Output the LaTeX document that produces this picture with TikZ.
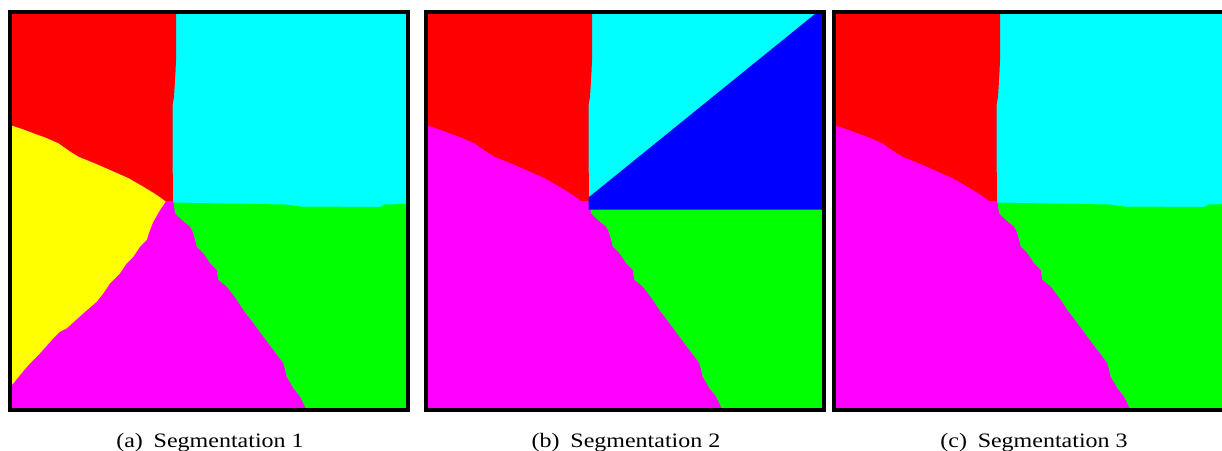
\documentclass[tikz,border=0pt]{standalone}
\usepackage{fontspec}
\setmainfont{Liberation Serif}
\usepackage{tikz}
\usepackage{xcolor}
\definecolor{segred}{RGB}{255,0,0}
\definecolor{segcyan}{RGB}{0,255,255}
\definecolor{seggreen}{RGB}{0,255,0}
\definecolor{segmagenta}{RGB}{255,0,255}
\definecolor{segyellow}{RGB}{255,255,0}
\definecolor{segblue}{RGB}{0,0,255}

% shared region borders, in pixels of the first panel
\newcommand{\bndV}{(176,14) -- (176,60) -- (175.5,72) -- (174,97) -- (172.5,105) -- (172.5,147) -- (173,201)}
\newcommand{\bndL}{(12,125.7) -- (22,129) -- (33.3,133.3) -- (45,137.5) -- (58.3,143.3) -- (70,151.5) -- (78.3,156.7) -- (95,163.5) -- (110,170) -- (128,178) -- (143.3,186.7) -- (156.7,195) -- (165,201) -- (173,201)}
\newcommand{\bndH}{(173,202.5) -- (195,203) -- (285,204.5) -- (300,206.5) -- (380,207) -- (385,204.5) -- (406,204)}
\newcommand{\bndM}{(173.3,201.7) -- (175,213.3) -- (181.7,220) -- (190,226.7) -- (193.3,233.3) -- (196.7,246.7) -- (203.3,253.3) -- (210,263.3) -- (216.7,270) -- (218.3,280) -- (226.7,286.7) -- (236.7,300) -- (243.3,310) -- (253.3,323.3) -- (263.3,336.7) -- (273.3,350) -- (283.3,363.3) -- (286.7,376.7) -- (293.3,388.3) -- (300,396.7) -- (305,407.3)}
\newcommand{\bndY}{(165.7,201.7) -- (160,210) -- (153.3,221.7) -- (150,230) -- (146.7,240) -- (140,246.7) -- (133.3,256.7) -- (126.7,263.3) -- (120,273.3) -- (110,283.3) -- (103.3,293.3) -- (96.7,301.7) -- (83.3,313.3) -- (66.7,328.3) -- (60,331.7) -- (51.7,340) -- (40,353.3) -- (30,363.3) -- (20,375) -- (12,385)}

\begin{document}
\begin{tikzpicture}[x=1pt, y=-1pt,
    frame/.style={draw=black, line width=4pt},
    caption/.style={anchor=base, inner sep=0pt, xscale=1.17, font=\fontsize{20.5}{24}\selectfont}]
  \useasboundingbox (0,0) rectangle (1222,450);
  \clip (0,0) rectangle (1222,450);

  % regions every panel has
  \foreach \dx in {0,416,824} {
    \begin{scope}[shift={(\dx,0)}]
      \clip (12,14) rectangle (406,408);
      \fill[segcyan] (12,14) rectangle (406,408);
      \fill[segred] (12,14) -- \bndV -- (173,205) -- (12,205) -- cycle;
      \fill[seggreen] \bndH -- (406,412) -- (173,412) -- cycle;
      \fill[segmagenta] \bndL -- \bndM -- (305,412) -- (12,412) -- cycle;
    \end{scope}
  }

  % yellow in (a), blue in (b)
  \fill[segyellow] (12,125.7) -- (22,129) -- (33.3,133.3) -- (45,137.5) -- (58.3,143.3) -- (70,151.5) -- (78.3,156.7) -- (95,163.5) -- (110,170) -- (128,178) -- (143.3,186.7) -- (156.7,195) -- (165,201) -- \bndY -- cycle;
  \fill[segblue, shift={(416,0)}] (172.5,197.5) -- (399,14) -- (406,14) -- (406,209.5) -- (172.5,209.5) -- cycle;

  \foreach \dx/\tag/\num in {0/a/1, 416/b/2, 824/c/3} {
    \draw[frame, shift={(\dx,0)}] (10,12) rectangle (408,410);
    \node[caption] (cap\tag) at (\dx+210,447.5) {(\tag)\hspace{0.45em}Segmentation \num};
  }
\end{tikzpicture}
\end{document}
